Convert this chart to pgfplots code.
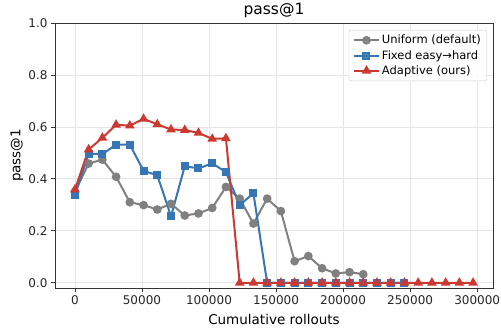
\documentclass[border=0pt]{standalone}
\usepackage{pgfplots}
\pgfplotsset{compat=1.18}
\usepackage{fontspec}
\setmainfont{DejaVu Sans}
\definecolor{cgray}{RGB}{128,128,128}
\definecolor{cblue}{RGB}{55,118,180}
\definecolor{cred}{RGB}{204,57,51}
\begin{document}
\begin{tikzpicture}
\begin{axis}[
  name=ax,
  scale only axis, width=438pt, height=265pt,
  xmin=-14848, xmax=311808, ymin=-0.02, ymax=1.0,
  xtick={0,50000,100000,150000,200000,250000,300000},
  ytick={0,0.2,0.4,0.6,0.8,1.0},
  scaled x ticks=false, scaled y ticks=false,
  xticklabel style={/pgf/number format/.cd, fixed, 1000 sep={}},
  yticklabel style={/pgf/number format/.cd, fixed, fixed zerofill, precision=1},
  /pgf/number format/assume math mode=true,
  tick align=outside, tick pos=left, major tick length=4pt,
  tick style={black!80, line width=0.8pt},
  grid=major, grid style={black!10, line width=0.8pt},
  axis line style={black!80, line width=0.8pt},
  ticklabel style={font=\fontsize{12}{14}\selectfont, text=black!85},
  title={pass@1},
  title style={font=\fontsize{15.5}{18}\selectfont, at={(axis description cs:0.5,1)}, anchor=center, yshift=7pt},
  xlabel={Cumulative rollouts},
  xlabel style={font=\fontsize{13.5}{16}\selectfont, at={(axis description cs:0.5,0)}, anchor=center, yshift=-31pt},
  ylabel={pass@1},
  ylabel style={font=\fontsize{13.5}{16}\selectfont, at={(axis description cs:-0.0868,0.5)}, anchor=center},
  legend style={at={(1,1)}, anchor=north east, xshift=-6pt, yshift=-7pt,
    draw=black!20, rounded corners=2pt, fill=white, fill opacity=0.85, text opacity=1,
    font=\fontsize{11.5}{13}\selectfont, row sep=1pt, inner xsep=4pt, inner ysep=3pt,
    legend cell align=left},
  legend image code/.code={\draw[mark repeat=2,mark phase=2] plot coordinates {(0pt,0pt)(12.5pt,0pt)(25pt,0pt)};},
]
\addplot[cgray, line width=2pt, mark=*, mark size=3.3pt, mark options={solid}] coordinates {
(0,0.350) (10240,0.459) (20480,0.474) (30720,0.408) (40960,0.310) (51200,0.299)
(61440,0.282) (71680,0.304) (81920,0.259) (92160,0.267) (102400,0.288) (112640,0.369)
(122880,0.324) (133120,0.228) (143360,0.324) (153600,0.276) (163840,0.083) (174080,0.103)
(184320,0.056) (194560,0.036) (204800,0.041) (215040,0.033)
};
\addlegendentry{Uniform (default)}
\addplot[cblue, line width=2pt, mark=square*, mark size=3pt, mark options={solid}] coordinates {
(0,0.337) (10240,0.497) (20480,0.495) (30720,0.532) (40960,0.532) (51200,0.431)
(61440,0.414) (71680,0.256) (81920,0.449) (92160,0.440) (102400,0.460) (112640,0.426)
(122880,0.299) (133120,0.345) (143360,0) (153600,0) (163840,0) (174080,0)
(184320,0) (194560,0) (204800,0) (215040,0) (225280,0) (235520,0) (245760,0)
};
\addlegendentry{Fixed easy→hard}
\addplot[cred, line width=2pt, mark=triangle*, mark size=3.6pt, mark options={solid}] coordinates {
(0,0.359) (10240,0.513) (20480,0.558) (30720,0.608) (40960,0.605) (51200,0.631)
(61440,0.610) (71680,0.590) (81920,0.588) (92160,0.577) (102400,0.554) (112640,0.556)
(122880,0) (133120,0) (143360,0) (153600,0) (163840,0) (174080,0) (184320,0)
(194560,0) (204800,0) (215040,0) (225280,0) (235520,0) (245760,0) (256000,0)
(266240,0) (276480,0) (286720,0) (296960,0)
};
\addlegendentry{Adaptive (ours)}
\end{axis}
\pgfresetboundingbox
\path[use as bounding box] ([shift={(-55pt,-45pt)}]ax.south west) rectangle ([shift={(8pt,23pt)}]ax.north east);
\end{tikzpicture}
\end{document}
